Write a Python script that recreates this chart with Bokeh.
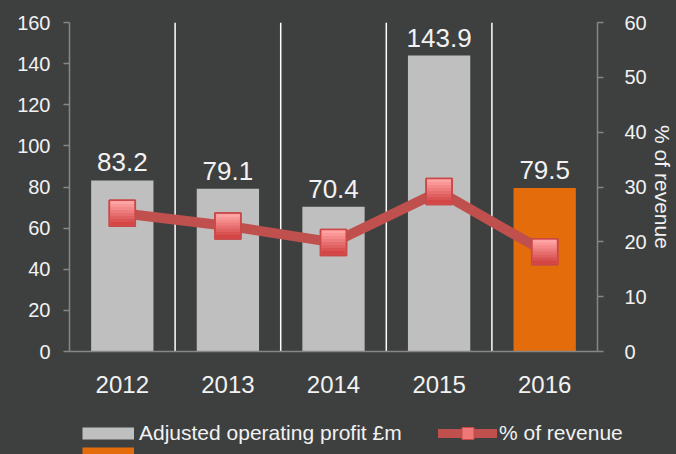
from bokeh.plotting import figure
from bokeh.layouts import column
from bokeh.models import (ColumnDataSource, FactorRange, Range1d, LinearAxis, Span,
                          Legend, LegendItem, FixedTicker)
from bokeh.core.properties import value
from bokeh.embed import file_html
from bokeh.resources import INLINE

# ---- data ----
years = ["2012", "2013", "2014", "2015", "2016"]
profit = [83.2, 79.1, 70.4, 143.9, 79.5]          # Adjusted operating profit £m
pct_revenue = [25.2, 22.9, 19.9, 29.2, 18.2]      # % of revenue
left_ticks = [0, 20, 40, 60, 80, 100, 120, 140, 160]
right_ticks = [0, 10, 20, 30, 40, 50, 60]
bar_label = "Adjusted operating profit £m"
line_label = "% of revenue"

# ---- style ----
BG = "#3e4040"
FONT = "Liberation Sans"
TXT = "#f2f2f2"
AXIS = "#868686"
GRAY = "#bfbfbf"
ORANGE = "#e46c0a"
RED = "#c0504d"
MK_LINE = "#c94848"

W = 676
MAIN_H = 410
LEG_H = 44
TOP, BOTTOM = 22, 59
FRAME_H = MAIN_H - TOP - BOTTOM

p = figure(x_range=FactorRange(factors=years), y_range=Range1d(left_ticks[0], left_ticks[-1]),
           width=W, height=MAIN_H, frame_align=False,
           min_border_left=69, min_border_right=76, min_border_top=TOP, min_border_bottom=BOTTOM,
           output_backend="svg", toolbar_location=None,
           background_fill_color=BG, border_fill_color=BG, outline_line_color=None)
p.extra_y_ranges = {"pct": Range1d(right_ticks[0], right_ticks[-1])}
p.xgrid.visible = False
p.ygrid.visible = False

# left axis
ya = p.yaxis[0]
ya.ticker = FixedTicker(ticks=left_ticks)
ya.axis_line_color = AXIS
ya.axis_line_width = 1.5
ya.major_tick_line_color = AXIS
ya.major_tick_line_width = 1.5
ya.major_tick_out = 6
ya.major_tick_in = 0
ya.minor_tick_line_color = None
ya.major_label_text_color = TXT
ya.major_label_text_font = FONT
ya.major_label_text_font_size = "20px"
ya.major_label_standoff = 13

# right axis
ra = LinearAxis(y_range_name="pct", ticker=FixedTicker(ticks=right_ticks), axis_label=line_label)
ra.axis_line_color = AXIS
ra.axis_line_width = 1.5
ra.major_tick_line_color = AXIS
ra.major_tick_line_width = 1.5
ra.major_tick_out = 6
ra.major_tick_in = 0
ra.minor_tick_line_color = None
ra.major_label_text_color = TXT
ra.major_label_text_font = FONT
ra.major_label_text_font_size = "20px"
ra.major_label_standoff = 21
ra.axis_label_text_color = TXT
ra.axis_label_text_font = FONT
ra.axis_label_text_font_size = "21px"
ra.axis_label_text_font_style = "normal"
ra.axis_label_standoff = 1
p.add_layout(ra, "right")

# bottom axis
xa = p.xaxis[0]
xa.axis_line_color = AXIS
xa.axis_line_width = 1.5
xa.major_tick_line_color = None
xa.minor_tick_line_color = None
xa.major_label_text_color = TXT
xa.major_label_text_font = FONT
xa.major_label_text_font_size = "24px"
xa.major_label_standoff = 18

# separators between categories
for i in range(1, len(years)):
    p.add_layout(Span(location=i, dimension="height", line_color="white",
                      line_width=1.5, level="underlay"))

# bars
gray_src = ColumnDataSource(dict(x=years[:-1], top=profit[:-1]))
hl_src = ColumnDataSource(dict(x=years[-1:], top=profit[-1:]))
p.vbar(x="x", top="top", width=0.59, source=gray_src, fill_color=GRAY, line_color=None)
p.vbar(x="x", top="top", width=0.59, source=hl_src, fill_color=ORANGE, line_color=None)

# bar value labels
p.text(x=years, y=profit, text=[f"{v:.1f}" for v in profit], text_align="center",
       text_baseline="alphabetic", y_offset=-18, text_color=TXT,
       text_font=value(FONT), text_font_size=value("26px"))

# line with square markers
p.line(x=years, y=pct_revenue, y_range_name="pct", line_color=RED, line_width=10,
       line_join="round", line_cap="round")
p.scatter(x=years, y=pct_revenue, y_range_name="pct", marker="square", size=26,
          fill_color="#e66a6a", line_color=MK_LINE, line_width=1.5)

# vertical gradient on the markers
px_per_pct = FRAME_H / (right_ticks[-1] - right_ticks[0])
inner = 24.0
nb = 8
bh = inner / nb
top_rgb = (255, 164, 164)
bot_rgb = (212, 70, 70)
for k in range(nb):
    off_px = inner / 2 - bh * (k + 0.5)
    t = k / (nb - 1)
    col = "#%02x%02x%02x" % tuple(int(round(a + (b - a) * t)) for a, b in zip(top_rgb, bot_rgb))
    p.rect(x=years, y=[v + off_px / px_per_pct for v in pct_revenue], width=inner, height=bh + 0.6,
           width_units="screen", height_units="screen", fill_color=col, line_color=None,
           y_range_name="pct")
p.scatter(x=years, y=pct_revenue, y_range_name="pct", marker="square", size=26,
          fill_color=None, line_color=MK_LINE, line_width=1.5)

# ---- legend strip below the chart ----
lg = figure(width=W, height=LEG_H, x_range=Range1d(0, 1), y_range=Range1d(0, 1),
            min_border=0, x_axis_location=None, y_axis_location=None, frame_align=False,
            output_backend="svg", toolbar_location=None,
            background_fill_color=BG, border_fill_color=BG, outline_line_color=None)
lg.grid.visible = False

NAN = [float("nan")]
sw_gray = lg.line(x=NAN, y=NAN, line_color=GRAY, line_width=12, line_cap="butt")
sw_orange = lg.line(x=NAN, y=NAN, line_color=ORANGE, line_width=12, line_cap="butt")
sw_line = lg.line(x=NAN, y=NAN, line_color=RED, line_width=9, line_cap="round")
sw_mark = lg.scatter(x=NAN, y=NAN, marker="square", fill_color="#ef7878",
                     line_color=MK_LINE, line_width=1)

common = dict(orientation="horizontal", glyph_height=30, label_height=30,
              padding=0, margin=0, spacing=0, border_line_color=None, background_fill_alpha=0,
              label_text_color=TXT, label_text_font=FONT, label_text_font_size="21px")

leg_a = Legend(items=[LegendItem(label=bar_label, renderers=[sw_gray])],
               location=(82, 6), glyph_width=52, label_standoff=5, **common)
leg_b = Legend(items=[LegendItem(label=line_label, renderers=[sw_line, sw_mark])],
               location=(438, 6), glyph_width=59, label_standoff=2, **common)
leg_c = Legend(items=[LegendItem(label=" ", renderers=[sw_orange])],
               location=(82, -14), glyph_width=52, label_standoff=5, **common)
lg.add_layout(leg_a)
lg.add_layout(leg_b)
lg.add_layout(leg_c)

layout = column(p, lg, spacing=0)
html = file_html(layout, INLINE, title="Adjusted operating profit")
html = html.replace("</head>", "<style>html, body { background-color: %s !important; }</style></head>" % BG, 1)
open("out.html", "w").write(html)
